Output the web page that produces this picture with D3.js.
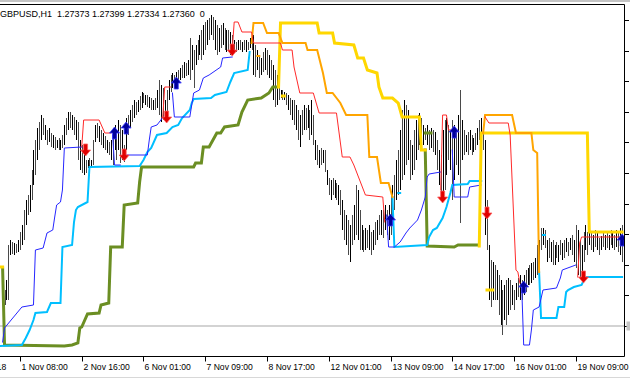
<!DOCTYPE html>
<html><head><meta charset="utf-8">
<script src="https://cdn.jsdelivr.net/npm/d3@7"></script>
<style>
html,body{margin:0;padding:0;background:#fff;}
svg{display:block;}
text{font-family:"Liberation Sans",Arial,sans-serif;font-size:8.6px;fill:#000;}
</style></head><body>
<svg id="c" width="630" height="380"></svg>
<script>
// ---- header / axis data ----
const symbolInfo = "GBPUSD,H1";
const ohlcNow = ["1.27373", "1.27399", "1.27334", "1.27360"];
const timeTickIndex = [-23, 9, 41, 73, 105, 137, 169, 201, 233, 265, 297];
const timeTickLabels = ["31 Oct 2018", "1 Nov 08:00", "2 Nov 16:00", "6 Nov 01:00", "7 Nov 09:00", "8 Nov 17:00",
  "12 Nov 01:00", "13 Nov 09:00", "14 Nov 17:00", "16 Nov 01:00", "19 Nov 09:00"];
const priceTicks = [1.2980, 1.29494, 1.29188, 1.28882, 1.28576, 1.2827, 1.27964, 1.27658, 1.27352, 1.27046, 1.2674];
const hLevel = 1.2674;

// ---- H1 bars (high / low) ----
const barHigh = [
1.2715,1.2710,1.2720,1.2755,1.2760,1.2758,1.2757,1.2756,1.2760,1.2768,
1.2775,1.2790,1.2800,1.2805,1.2815,1.2830,1.2850,1.2860,1.2872,1.2878,
1.2885,1.2882,1.2875,1.2870,1.2872,1.2867,1.2865,1.2863,1.2860,1.2862,
1.2860,1.2865,1.2875,1.2882,1.2888,1.2888,1.2885,1.2883,1.2880,1.2878,
1.2860,1.2855,1.2850,1.2840,1.2840,1.2842,1.2840,1.2860,1.2875,1.2877,
1.2874,1.2870,1.2867,1.2864,1.2860,1.2858,1.2860,1.2872,1.2875,1.2870,
1.2880,1.2875,1.2870,1.2855,1.2882,1.2885,1.2890,1.2895,1.2900,1.2898,
1.2900,1.2904,1.2908,1.2907,1.2905,1.2905,1.2903,1.2902,1.2900,1.2902,
1.2910,1.2920,1.2915,1.2912,1.2900,1.2910,1.2920,1.2925,1.2927,1.2925,
1.2928,1.2930,1.2932,1.2935,1.2938,1.2937,1.2940,1.2962,1.2955,1.2950,
1.2955,1.2960,1.2965,1.2970,1.2975,1.2978,1.2980,1.2982,1.2985,1.2983,
1.2980,1.2975,1.2972,1.2975,1.2977,1.2972,1.2970,1.2970,1.2968,1.2965,
1.2960,1.2958,1.2960,1.2960,1.2958,1.2960,1.2960,1.2958,1.2962,1.2965,
1.2965,1.2955,1.2950,1.2945,1.2942,1.2948,1.2952,1.2950,1.2945,1.2940,
1.2935,1.2930,1.2925,1.2912,1.2910,1.2910,1.2908,1.2907,1.2905,1.2902,
1.2900,1.2900,1.2895,1.2890,1.2885,1.2890,1.2895,1.2892,1.2895,1.2890,
1.2900,1.2885,1.2860,1.2855,1.2850,1.2852,1.2850,1.2850,1.2830,1.2822,
1.2820,1.2822,1.2820,1.2817,1.2815,1.2810,1.2800,1.2790,1.2785,1.2780,
1.2775,1.2785,1.2795,1.2815,1.2810,1.2790,1.2775,1.2770,1.2772,1.2770,
1.2775,1.2768,1.2770,1.2778,1.2780,1.2785,1.2790,1.2790,1.2795,1.2790,
1.2795,1.2805,1.2815,1.2825,1.2840,1.2850,1.2870,1.2890,1.2900,1.2895,
1.2890,1.2860,1.2855,1.2870,1.2880,1.2885,1.2887,1.2882,1.2875,1.2872,
1.2875,1.2870,1.2872,1.2870,1.2868,1.2860,1.2850,1.2845,1.2870,1.2880,
1.2882,1.2875,1.2870,1.2880,1.2875,1.2870,1.2885,1.2910,1.2880,1.2870,
1.2865,1.2868,1.2870,1.2865,1.2862,1.2867,1.2872,1.2880,1.2882,1.2875,
1.2860,1.2800,1.2755,1.2740,1.2738,1.2735,1.2730,1.2725,1.2720,1.2710,
1.2715,1.2720,1.2722,1.2720,1.2715,1.2710,1.2717,1.2722,1.2725,1.2720,
1.2725,1.2730,1.2732,1.2735,1.2737,1.2738,1.2742,1.2755,1.2760,1.2772,
1.2772,1.2770,1.2760,1.2762,1.2758,1.2760,1.2755,1.2758,1.2755,1.2760,
1.2757,1.2760,1.2762,1.2758,1.2762,1.2765,1.2760,1.2775,1.2770,1.2760,
1.2755,1.2768,1.2775,1.2768,1.2772,1.2767,1.2765,1.2770,1.2768,1.2762,
1.2764,1.2767,1.2765,1.2768,1.2765,1.2770,1.2768,1.2765,1.2770,1.2767,
1.2772,1.2775];
const barLow = [
1.2700,1.2695,1.2700,1.2700,1.2745,1.2746,1.2745,1.2747,1.2748,1.2750,
1.2755,1.2760,1.2775,1.2785,1.2788,1.2800,1.2815,1.2825,1.2840,1.2850,
1.2860,1.2865,1.2860,1.2855,1.2858,1.2853,1.2852,1.2850,1.2852,1.2850,
1.2850,1.2852,1.2855,1.2865,1.2870,1.2872,1.2870,1.2865,1.2860,1.2840,
1.2830,1.2827,1.2825,1.2827,1.2832,1.2833,1.2834,1.2835,1.2858,1.2862,
1.2858,1.2855,1.2852,1.2850,1.2847,1.2845,1.2840,1.2835,1.2850,1.2840,
1.2850,1.2837,1.2840,1.2838,1.2850,1.2865,1.2872,1.2878,1.2882,1.2885,
1.2888,1.2890,1.2892,1.2897,1.2895,1.2893,1.2892,1.2890,1.2890,1.2890,
1.2892,1.2885,1.2878,1.2880,1.2882,1.2885,1.2900,1.2908,1.2912,1.2912,
1.2915,1.2917,1.2920,1.2922,1.2922,1.2924,1.2925,1.2920,1.2930,1.2912,
1.2935,1.2940,1.2945,1.2940,1.2945,1.2950,1.2955,1.2960,1.2965,1.2960,
1.2950,1.2945,1.2948,1.2952,1.2955,1.2950,1.2948,1.2950,1.2945,1.2947,
1.2948,1.2948,1.2950,1.2950,1.2948,1.2950,1.2948,1.2950,1.2952,1.2950,
1.2925,1.2923,1.2930,1.2922,1.2925,1.2928,1.2930,1.2925,1.2922,1.2920,
1.2900,1.2893,1.2895,1.2900,1.2902,1.2900,1.2900,1.2895,1.2890,1.2885,
1.2880,1.2875,1.2870,1.2860,1.2853,1.2865,1.2870,1.2870,1.2872,1.2860,
1.2865,1.2855,1.2840,1.2835,1.2832,1.2835,1.2837,1.2828,1.2815,1.2805,
1.2800,1.2805,1.2802,1.2800,1.2795,1.2785,1.2770,1.2760,1.2755,1.2745,
1.2738,1.2755,1.2760,1.2765,1.2760,1.2750,1.2750,1.2748,1.2750,1.2752,
1.2750,1.2745,1.2750,1.2755,1.2760,1.2765,1.2765,1.2762,1.2770,1.2765,
1.2760,1.2765,1.2775,1.2790,1.2800,1.2805,1.2810,1.2820,1.2825,1.2835,
1.2840,1.2820,1.2825,1.2830,1.2840,1.2850,1.2855,1.2850,1.2855,1.2860,
1.2855,1.2850,1.2852,1.2848,1.2845,1.2830,1.2815,1.2805,1.2800,1.2810,
1.2825,1.2840,1.2830,1.2800,1.2820,1.2835,1.2825,1.2777,1.2840,1.2845,
1.2848,1.2845,1.2850,1.2845,1.2848,1.2850,1.2855,1.2860,1.2865,1.2850,
1.2765,1.2750,1.2700,1.2693,1.2700,1.2700,1.2700,1.2685,1.2675,1.2665,
1.2680,1.2675,1.2685,1.2690,1.2695,1.2690,1.2700,1.2703,1.2700,1.2700,
1.2705,1.2708,1.2715,1.2715,1.2717,1.2720,1.2722,1.2725,1.2730,1.2750,
1.2755,1.2752,1.2738,1.2742,1.2738,1.2735,1.2735,1.2742,1.2738,1.2745,
1.2740,1.2742,1.2748,1.2744,1.2750,1.2745,1.2738,1.2732,1.2725,1.2723,
1.2723,1.2738,1.2750,1.2745,1.2755,1.2750,1.2748,1.2753,1.2750,1.2745,
1.2750,1.2753,1.2750,1.2752,1.2750,1.2755,1.2752,1.2750,1.2753,1.2748,
1.2745,1.2738];

// ---- indicator step lines: segments of [barIndex, price] ----
const redLine = [
 [[41,1.2853],[42,1.2880],[50,1.2880],[53,1.2867],[56,1.2867]],
 [[83,1.2883],[84,1.2913],[87,1.2913]],
 [[119,1.2950],[120,1.2978],[122,1.2978],[124,1.2968],[129,1.2968],[130,1.2957],[144,1.2957],[145,1.2950],[150,1.2950],[151,1.2933],[154,1.2907],[161,1.2907],[164,1.2887],[173,1.2887],[176,1.2843],[180,1.2843],[182,1.2835],[188,1.2805],[197,1.2803],[198,1.2778]],
 [[227,1.2810],[228,1.2885],[230,1.2885],[231,1.2870],[233,1.2870]],
 [[250,1.2883],[252,1.2877],[262,1.2877],[263,1.2865],[266,1.2730],[267,1.2728],[268,1.2717]],
 [[298,1.2723],[299,1.2757],[300,1.2763],[320,1.2763]]
];
const orangeLine = [
 [[129,1.2957],[130,1.2977],[135,1.2977],[137,1.2967],[143,1.2967],[145,1.2957],[157,1.2957],[158,1.2950],[163,1.2950],[166,1.2927],[168,1.2907],[171,1.2907],[175,1.2897],[178,1.2885],[189,1.2885],[190,1.2843],[194,1.2843],[196,1.2817],[200,1.2817],[202,1.2803]],
 [[132,1.2944],[133,1.2944]],
 [[249,1.2867],[250,1.2885],[264,1.2885],[266,1.2867],[274,1.2867],[275,1.2850],[277,1.2847],[278,1.2728]]
];
const yellowLine = [
 [[-2,1.2733],[0,1.2733]],
 [[143,1.2913],[144,1.2977],[163,1.2977],[164,1.2967],[171,1.2967],[172,1.2957],[182,1.2955],[184,1.2942],[187,1.2942],[189,1.2930],[194,1.2927],[195,1.2913],[197,1.2902],[202,1.2902],[205,1.2897],[207,1.2883],[216,1.2883],[217,1.2850],[219,1.2850]],
 [[145,1.2904],[146,1.2904]],
 [[247,1.2754],[248,1.2867],[303,1.2867],[304,1.2768],[321,1.2768]],
 [[251,1.2710],[254,1.2710]]
];
const blueLine = [
 [[0,1.2658],[1,1.2672],[7,1.2686],[10,1.2693],[16,1.2695],[17,1.2750],[21,1.2752],[23,1.2767],[26,1.2770],[27,1.2783],[28,1.2795],[30,1.2798],[31,1.2810],[32,1.2852],[41,1.2853]],
 [[57,1.2865],[58,1.2835],[61,1.2835]],
 [[64,1.2845],[75,1.2845],[76,1.2860],[77,1.2873],[80,1.2875],[82,1.2880],[83,1.2883]],
 [[88,1.2907],[89,1.2883],[97,1.2883],[99,1.2907],[102,1.2910],[104,1.2922],[107,1.2925],[113,1.2933],[114,1.2942],[119,1.2943]],
 [[199,1.2785],[200,1.2753],[203,1.2753],[206,1.2758],[209,1.2767],[211,1.2772],[215,1.2780],[217,1.2790],[219,1.2803],[220,1.2823],[221,1.2826],[227,1.2828]],
 [[233,1.2850],[234,1.2803],[241,1.2803],[242,1.2813],[248,1.2815]],
 [[269,1.2712],[270,1.2655],[273,1.2655],[274,1.2670],[275,1.2690],[278,1.2693],[280,1.2710],[287,1.2712],[289,1.2722],[290,1.2730],[297,1.2735]]
];
const cyanLine = [
 [[-1,1.2654],[10,1.2655],[12,1.2662],[14,1.2670],[16,1.2680],[17,1.2687],[23,1.2688],[25,1.2697],[30,1.2697],[31,1.2753],[36,1.2755],[37,1.2778],[38,1.2790],[39,1.2793],[44,1.2798],[45,1.2833],[71,1.2834],[73,1.2840],[75,1.2848],[77,1.2852],[80,1.2865],[85,1.2867],[88,1.2873],[91,1.2875],[93,1.2882],[97,1.2890],[98,1.2897],[99,1.2901],[108,1.2902],[110,1.2905],[116,1.2908],[118,1.2918],[120,1.2927],[127,1.2930],[128,1.2948]],
 [[202,1.2803],[203,1.2753],[220,1.2755],[221,1.2763],[223,1.2770],[225,1.2772],[228,1.2782],[230,1.2793],[232,1.2807],[233,1.2815],[241,1.2816],[242,1.2819],[248,1.2819]],
 [[205,1.2807],[206,1.2807]],
 [[278,1.2728],[279,1.2682],[287,1.2682],[288,1.2693],[291,1.2693],[292,1.2708],[293,1.2710],[296,1.2713],[300,1.2715],[302,1.2723],[321,1.2723]],
 [[280,1.2765],[281,1.2765]]
];
const greenLine = [
 [[0,1.2732],[1,1.2655],[32,1.2654],[36,1.2655],[39,1.2657],[40,1.2672],[41,1.2673],[44,1.2686],[50,1.2687],[51,1.2695],[55,1.2697],[56,1.2753],[62,1.2753],[63,1.2795],[70,1.2797],[71,1.2818],[72,1.2833],[99,1.2833],[100,1.2837],[103,1.2837],[104,1.2853],[107,1.2853],[111,1.2867],[113,1.2867],[115,1.2873],[122,1.2875],[124,1.2888],[127,1.2900],[134,1.2902],[138,1.2907],[140,1.2913],[142,1.2913]],
 [[219,1.2850],[220,1.2754],[234,1.2753],[236,1.2755],[246,1.2755]],
 [[219,1.2867],[222,1.2867]]
];
// ---- signal arrows [barIndex, price] ----
const sellSignals = [[43,1.2850],[63,1.2845],[85,1.2883],[119,1.2950],[228,1.2803],[251,1.2787],[301,1.2723]];
const buySignals  = [[58,1.2867],[64,1.2872],[90,1.2917],[201,1.2780],[234,1.2868],[270,1.2713],[321,1.2760]];

// ---- drawing ----
const svg = d3.select("#c");
const plot = {left: 0, right: 624.5, top: 4.5, bottom: 356.5};
const x = d3.scaleLinear().domain([0, 321]).range([2.6, 622.1]);
const y = d3.scaleLinear().domain([1.2643, 1.2996]).range([357, 4]);

svg.append("rect").attr("x",0).attr("y",0).attr("width",630).attr("height",380).attr("fill","#fff");
svg.append("rect").attr("x",0).attr("y",0).attr("width",630).attr("height",2).attr("fill","#c4c4c4");

svg.append("defs").append("clipPath").attr("id","clip")
  .append("rect").attr("x",0).attr("y",plot.top).attr("width",plot.right).attr("height",plot.bottom-plot.top);
const g = svg.append("g").attr("clip-path","url(#clip)");

// horizontal level
g.append("line").attr("x1",0).attr("x2",plot.right)
  .attr("y1",y(hLevel)).attr("y2",y(hLevel)).attr("stroke","#c4c4c4").attr("stroke-width",1.6);

// bars (crisp 1px lines)
g.append("g").attr("shape-rendering","crispEdges").selectAll("line").data(d3.range(barHigh.length)).join("line")
  .attr("x1",i=>Math.round(x(i))+0.5).attr("x2",i=>Math.round(x(i))+0.5)
  .attr("y1",i=>Math.round(y(barHigh[i]))).attr("y2",i=>Math.round(y(barLow[i])))
  .attr("stroke",i=>(i%2 ? "#4a4a4a" : "#000")).attr("stroke-width",1);

const line = d3.line().x(d=>x(d[0])).y(d=>y(d[1]));
function drawLine(segs, color, w){
  g.append("g").selectAll("path").data(segs).join("path")
    .attr("d",line).attr("fill","none").attr("stroke",color).attr("stroke-width",w)
    .attr("stroke-linejoin","miter").attr("stroke-linecap","square");
}
drawLine(greenLine, "#6b8e23", 3);
drawLine(cyanLine, "#00bfff", 2);
drawLine(blueLine, "#2626ff", 1);
drawLine(yellowLine, "#ffd700", 3);
drawLine(orangeLine, "#ffa500", 2);
drawLine(redLine, "#ff2a2a", 1);

// arrows
const downArrow = "M-2,-6 L2,-6 L2,0 L5,0 L0,6 L-5,0 L-2,0 Z";
const upArrow = "M-2,6 L2,6 L2,0 L5,0 L0,-6 L-5,0 L-2,0 Z";
g.append("g").selectAll("path").data(sellSignals).join("path")
  .attr("d",downArrow).attr("transform",d=>`translate(${x(d[0])},${y(d[1])})`)
  .attr("fill","#e00000").attr("stroke","#ff6060").attr("stroke-width",0.8);
g.append("g").selectAll("path").data(buySignals).join("path")
  .attr("d",upArrow).attr("transform",d=>`translate(${x(d[0])},${y(d[1])})`)
  .attr("fill","#00009a").attr("stroke","#3a3aff").attr("stroke-width",0.8);

// frame
svg.append("path").attr("d",`M0,${plot.top} H${plot.right} V${plot.bottom} H0`)
  .attr("fill","none").attr("stroke","#000").attr("stroke-width",1);

// price ticks (labels fall outside the window)
svg.append("g").selectAll("line").data(priceTicks).join("line")
  .attr("x1",plot.right).attr("x2",629)
  .attr("y1",d=>Math.round(y(d))+0.5).attr("y2",d=>Math.round(y(d))+0.5)
  .attr("stroke","#000").attr("stroke-width",1);
svg.append("rect").attr("x",626.5).attr("y",y(hLevel)-4.5).attr("width",4).attr("height",9).attr("fill","#c4c4c4");

// time ticks + labels
const tg = svg.append("g").selectAll("g").data(timeTickIndex).join("g");
tg.append("line").attr("x1",d=>Math.round(x(d))+0.5).attr("x2",d=>Math.round(x(d))+0.5)
  .attr("y1",plot.bottom).attr("y2",plot.bottom+5).attr("stroke","#000");
tg.append("text").attr("x",d=>Math.round(x(d))+1.5).attr("y",370)
  .text((d,i)=>timeTickLabels[i]);

svg.append("rect").attr("x",0).attr("y",377).attr("width",630).attr("height",1).attr("fill","#d8d8d8");

// title
svg.append("text").attr("x",0).attr("y",17).style("white-space","pre").style("font-size","9px")
  .text(symbolInfo + "  " + ohlcNow.join(" ") + "  0");
</script>
</body></html>
